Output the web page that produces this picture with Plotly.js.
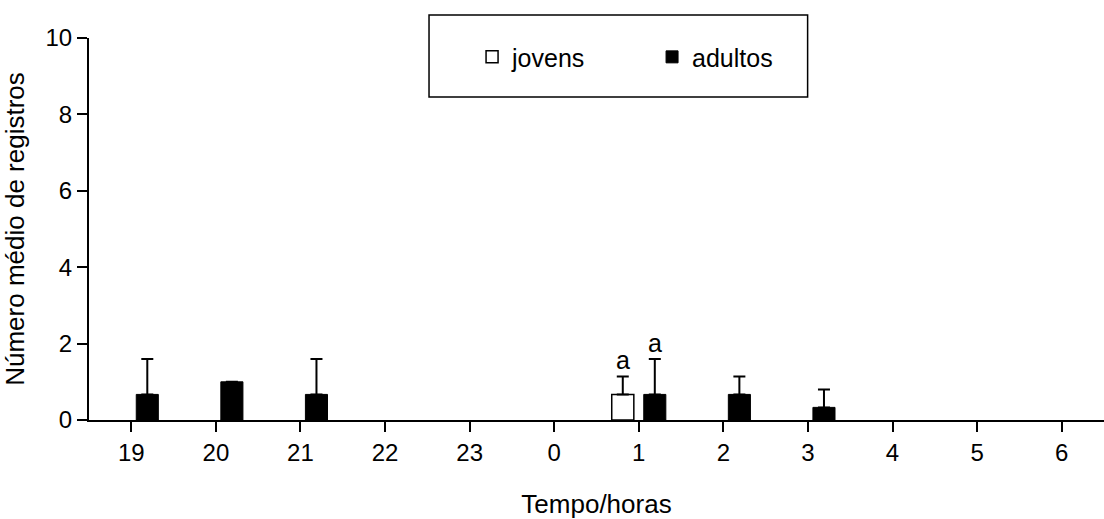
<!DOCTYPE html>
<html>
<head>
<meta charset="utf-8">
<script src="https://cdn.plot.ly/plotly-3.0.1.min.js"></script>
<style>html,body{margin:0;padding:0;background:#fff;}#chart{width:1104px;height:519px;}</style>
</head>
<body>
<div id="chart"></div>
<script>
const horas = ["19","20","21","22","23","0","1","2","3","4","5","6"];
const jovens = [0,0,0,0,0,0,0.67,0,0,0,0,0];
const jovensErr = [0,0,0,0,0,0,0.47,0,0,0,0,0];
const adultos = [0.67,1,0.67,0,0,0,0.67,0.67,0.33,0,0,0];
const adultosErr = [0.93,0,0.93,0,0,0,0.93,0.47,0.47,0,0,0];
const yTicks = [0,2,4,6,8,10];

const font = "Liberation Sans, Arial, sans-serif";
// zero means are drawn as nothing (no outline, no error cap)
const nz = arr => arr.map(v => (v === 0 ? null : v));
const zeros = horas.map(() => 0);

const traces = [
  {
    type: "bar", name: "jovens", x: horas, y: nz(jovens),
    marker: {color: "#ffffff", line: {color: "#000000", width: 1.5}},
    error_y: {type: "data", symmetric: false, array: nz(jovensErr), arrayminus: zeros,
              color: "#000000", thickness: 2, width: 6, visible: true}
  },
  {
    type: "bar", name: "adultos", x: horas, y: nz(adultos),
    marker: {color: "#000000", line: {color: "#000000", width: 1}},
    error_y: {type: "data", symmetric: false, array: nz(adultosErr), arrayminus: zeros,
              color: "#000000", thickness: 2, width: 6, visible: true}
  }
];

const i1 = horas.indexOf("1");
const layout = {
  width: 1104, height: 519,
  margin: {l: 89, r: 0, t: 38, b: 98.5},
  paper_bgcolor: "#ffffff", plot_bgcolor: "#ffffff",
  font: {family: font, size: 24, color: "#000000"},
  barmode: "group", bargap: 0.243, bargroupgap: 0.31,
  showlegend: true,
  legend: {orientation: "h", x: 0.3774, y: 0.95, xanchor: "left", yanchor: "middle",
           font: {family: font, size: 25, color: "#000"}, bgcolor: "rgba(0,0,0,0)",
           borderwidth: 0, entrywidth: 135, entrywidthmode: "pixels", traceorder: "normal"},
  xaxis: {
    type: "category", range: [-0.5, 11.5], showline: true, linecolor: "#000", linewidth: 2,
    ticks: "outside", ticklen: 10, tickwidth: 2, tickcolor: "#000",
    showgrid: false, zeroline: false, fixedrange: true,
    tickfont: {family: font, size: 24, color: "#000"},
    title: {text: "Tempo/horas", font: {family: font, size: 26, color: "#000"}, standoff: 30}
  },
  yaxis: {
    range: [0, 10], tickvals: yTicks, ticktext: yTicks.map(String),
    showline: true, linecolor: "#000", linewidth: 2,
    ticks: "outside", ticklen: 10, tickwidth: 2, tickcolor: "#000",
    showgrid: false, zeroline: false, fixedrange: true,
    tickfont: {family: font, size: 24, color: "#000"},
    title: {text: "Número médio de registros", font: {family: font, size: 26, color: "#000"}, standoff: 14}
  },
  shapes: [
    {type: "rect", xref: "paper", yref: "paper", x0: 0.335, x1: 0.708, y0: 0.8458, y1: 1.060,
     line: {color: "#000", width: 1.5}, fillcolor: "rgba(0,0,0,0)"}
  ],
  annotations: [
    {x: i1, y: jovens[i1] + jovensErr[i1], xref: "x", yref: "y", text: "a", showarrow: false,
     xshift: -16, yanchor: "bottom", yshift: 0, font: {family: font, size: 25, color: "#000"}},
    {x: i1, y: adultos[i1] + adultosErr[i1], xref: "x", yref: "y", text: "a", showarrow: false,
     xshift: 16, yanchor: "bottom", yshift: 0, font: {family: font, size: 25, color: "#000"}}
  ]
};

Plotly.newPlot("chart", traces, layout, {staticPlot: true, displayModeBar: false});
</script>
</body>
</html>
